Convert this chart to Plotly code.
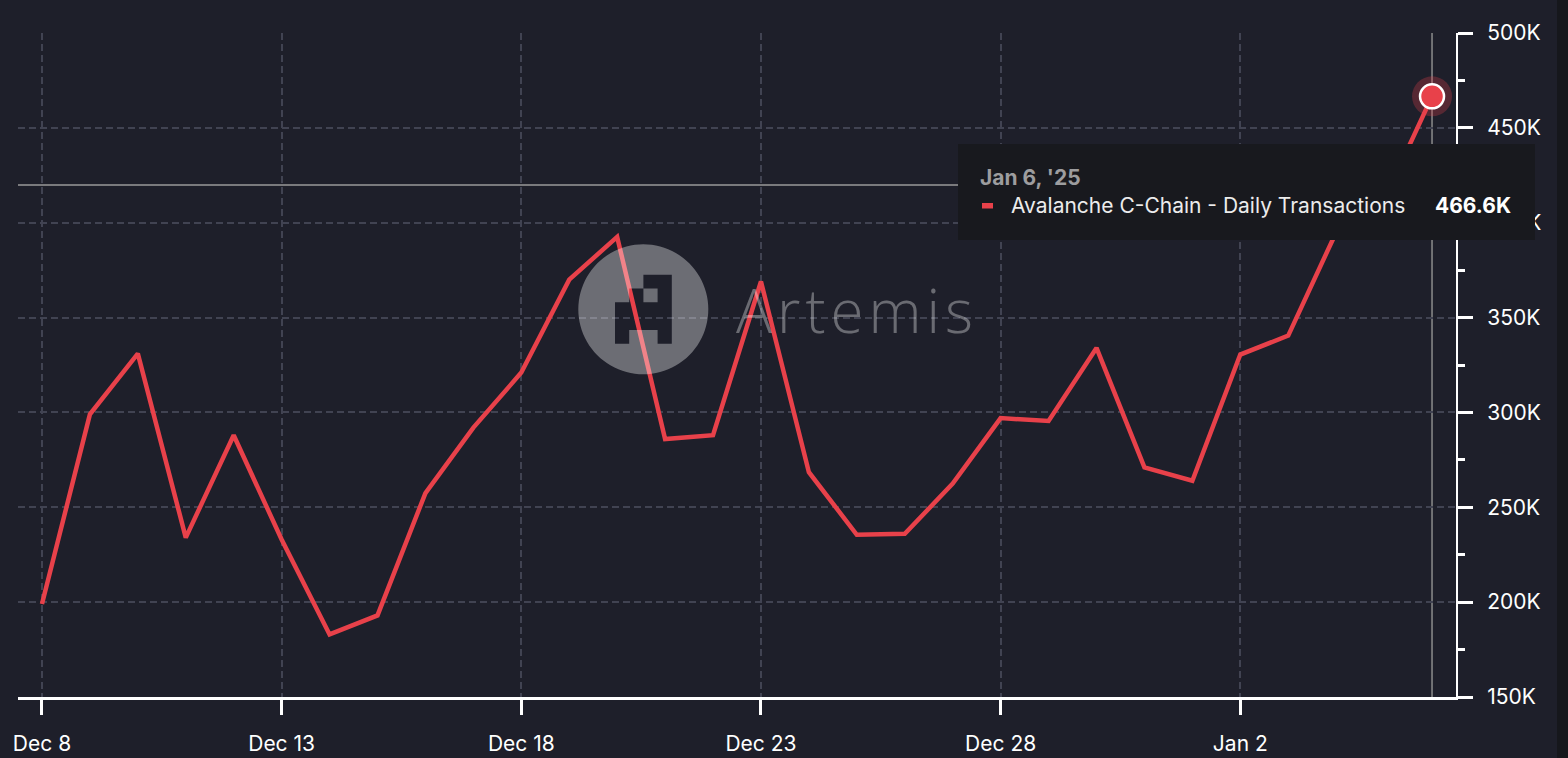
import math
import plotly.graph_objects as go

# ---------------- data ----------------
dates = [
    "2024-12-08", "2024-12-09", "2024-12-10", "2024-12-11", "2024-12-12",
    "2024-12-13", "2024-12-14", "2024-12-15", "2024-12-16", "2024-12-17",
    "2024-12-18", "2024-12-19", "2024-12-20", "2024-12-21", "2024-12-22",
    "2024-12-23", "2024-12-24", "2024-12-25", "2024-12-26", "2024-12-27",
    "2024-12-28", "2024-12-29", "2024-12-30", "2024-12-31", "2025-01-01",
    "2025-01-02", "2025-01-03", "2025-01-04", "2025-01-05", "2025-01-06",
]
daily_transactions = [
    199000, 299000, 331000, 234000, 288000,
    233000, 183000, 193000, 257500, 292000,
    321000, 370000, 392500, 286000, 288000,
    369000, 268500, 235500, 236000, 262500,
    297000, 295500, 334000, 271000, 264000,
    330500, 340500, 395000, 412000, 466600,
]
x_tick_vals = ["2024-12-08", "2024-12-13", "2024-12-18", "2024-12-23", "2024-12-28", "2025-01-02"]
x_tick_text = ["Dec 8", "Dec 13", "Dec 18", "Dec 23", "Dec 28", "Jan 2"]
y_tick_vals = [150000, 200000, 250000, 300000, 350000, 400000, 450000, 500000]
y_tick_text = ["150K", "200K", "250K", "300K", "350K", "400K", "450K", "500K"]
series_name = "Avalanche C-Chain - Daily Transactions"
tooltip_date = "Jan 6, '25"
tooltip_value = "466.6K"

# ---------------- style ----------------
BG = "#1e1f2a"
RED = "#e8414a"
GRID = "#414352"
FONT = "Inter, Roboto, sans-serif"
FS = 21

fig = go.Figure()

fig.add_trace(go.Scatter(
    x=dates, y=daily_transactions, mode="lines", name=series_name,
    line=dict(color=RED, width=4.5), hoverinfo="skip",
))
# highlighted last point (halo + marker)
fig.add_trace(go.Scatter(
    x=[dates[-1]], y=[daily_transactions[-1]], mode="markers",
    marker=dict(size=40, color="rgba(232,65,74,0.28)", line=dict(width=0)),
    hoverinfo="skip", showlegend=False,
))
fig.add_trace(go.Scatter(
    x=[dates[-1]], y=[daily_transactions[-1]], mode="markers",
    marker=dict(size=24, color=RED, line=dict(color="white", width=2.5)),
    hoverinfo="skip", showlegend=False,
))

# plot area geometry in pixels (for paper conversions)
L, R, T, B = 18, 112, 33, 61
W, H = 1568, 758
PW, PH = W - L - R, H - T - B


def px_x(x):
    return (x - L) / PW


def px_y(y):
    return (H - B - y) / PH


shapes = []
# crosshair lines
shapes.append(dict(type="line", xref="x", yref="paper", x0=dates[-1], x1=dates[-1],
                   y0=0, y1=1, line=dict(color="#8c8c8c", width=1.5), layer="between"))
shapes.append(dict(type="line", xref="paper", yref="paper", x0=0, x1=1,
                   y0=px_y(185), y1=px_y(185), line=dict(color="#9a9a9a", width=1.5), layer="between"))

# watermark logo: circle with pixel-art holes (evenodd); pixel y offsets point upward
cx, cy, rad = 643.3, 309.3, 65
pts = []
for i in range(96):
    a = 2 * math.pi * i / 96
    pts.append((rad * math.cos(a), rad * math.sin(a)))
path = "M " + " L ".join(f"{px:.2f},{py:.2f}" for px, py in pts) + " Z"
X = [615 + 14.2 * k for k in range(5)]
Y = [274.7 + 13.8 * k for k in range(6)]
outline = [(X[2], Y[0]), (X[4], Y[0]), (X[4], Y[5]), (X[3], Y[5]), (X[3], Y[4]),
           (X[1], Y[4]), (X[1], Y[5]), (X[0], Y[5]), (X[0], Y[2]), (X[1], Y[2]),
           (X[1], Y[1]), (X[2], Y[1])]
notch = [(X[2], Y[1]), (X[3], Y[1]), (X[3], Y[2]), (X[2], Y[2])]
for poly in (outline, notch):
    path += " M " + " L ".join(f"{(px - cx):.2f},{(cy - py):.2f}" for px, py in poly) + " Z"
shapes.append(dict(type="path", path=path, xref="paper", yref="paper",
                   xsizemode="pixel", ysizemode="pixel",
                   xanchor=px_x(cx), yanchor=px_y(cy),
                   fillcolor="rgba(255,255,255,0.35)", fillrule="evenodd",
                   line=dict(width=0), layer="above"))

# tooltip box
shapes.append(dict(type="rect", xref="paper", yref="paper",
                   x0=px_x(958), x1=px_x(1535), y0=px_y(240), y1=px_y(144),
                   fillcolor="#18191e", line=dict(width=0), layer="above"))
shapes.append(dict(type="rect", xref="paper", yref="paper",
                   x0=px_x(982), x1=px_x(993), y0=px_y(208.5), y1=px_y(203),
                   fillcolor=RED, line=dict(width=0), layer="above"))
# dark strip at right edge
shapes.append(dict(type="rect", xref="paper", yref="paper",
                   x0=px_x(1557), x1=px_x(1570), y0=px_y(760), y1=px_y(-2),
                   fillcolor="#16171c", line=dict(width=0), layer="below"))

annotations = [
    dict(text="<span style='letter-spacing:5px'>Artemis</span>", xref="paper", yref="paper",
         x=px_x(857), y=px_y(310),
         xanchor="center", yanchor="middle", showarrow=False,
         font=dict(family="Open Sans, sans-serif", size=60, color="rgba(255,255,255,0.34)", weight=300)),
    dict(text=f"<b>{tooltip_date}</b>", xref="paper", yref="paper", x=px_x(978), y=px_y(177),
         xanchor="left", yanchor="middle", showarrow=False,
         font=dict(family=FONT, size=FS, color="#9d9d9f")),
    dict(text=series_name, xref="paper", yref="paper", x=px_x(1009), y=px_y(205),
         xanchor="left", yanchor="middle", showarrow=False,
         font=dict(family=FONT, size=FS, color="#ececec")),
    dict(text=f"<b>{tooltip_value}</b>", xref="paper", yref="paper", x=px_x(1513), y=px_y(205),
         xanchor="right", yanchor="middle", showarrow=False,
         font=dict(family=FONT, size=FS, color="#ffffff")),
]

fig.update_layout(
    width=W, height=H,
    margin=dict(l=L, r=R, t=T, b=B, pad=0, autoexpand=False),
    paper_bgcolor=BG, plot_bgcolor=BG,
    showlegend=False, hovermode=False,
    font=dict(family=FONT, color="white", size=FS),
    shapes=shapes, annotations=annotations,
    xaxis=dict(
        type="date", range=["2024-12-07 12:00", "2025-01-06 12:00"],
        tickvals=x_tick_vals, ticktext=x_tick_text,
        showline=True, linecolor="white", linewidth=3,
        ticks="outside", ticklen=15, tickwidth=3, tickcolor="white",
        ticklabelstandoff=11, automargin=False,
        showgrid=True, gridcolor=GRID, gridwidth=1.5, griddash="7px,4px",
        zeroline=False, tickfont=dict(size=FS, color="white"),
    ),
    yaxis=dict(
        side="right", range=[150000, 500000],
        tickvals=y_tick_vals, ticktext=y_tick_text,
        showline=True, linecolor="white", linewidth=2,
        ticks="outside", ticklen=15, tickwidth=3, tickcolor="white",
        ticklabelstandoff=10, automargin=False,
        minor=dict(dtick=25000, tick0=150000, ticks="outside", ticklen=7, tickwidth=3,
                   tickcolor="white", showgrid=False),
        showgrid=True, gridcolor=GRID, gridwidth=1.5, griddash="7px,4px",
        zeroline=False, tickfont=dict(size=FS, color="white"),
    ),
)

fig.write_html(
    "out.html",
    config={"displayModeBar": False},
    post_script="document.body.style.margin='0';document.body.style.background='" + BG + "';",
)
